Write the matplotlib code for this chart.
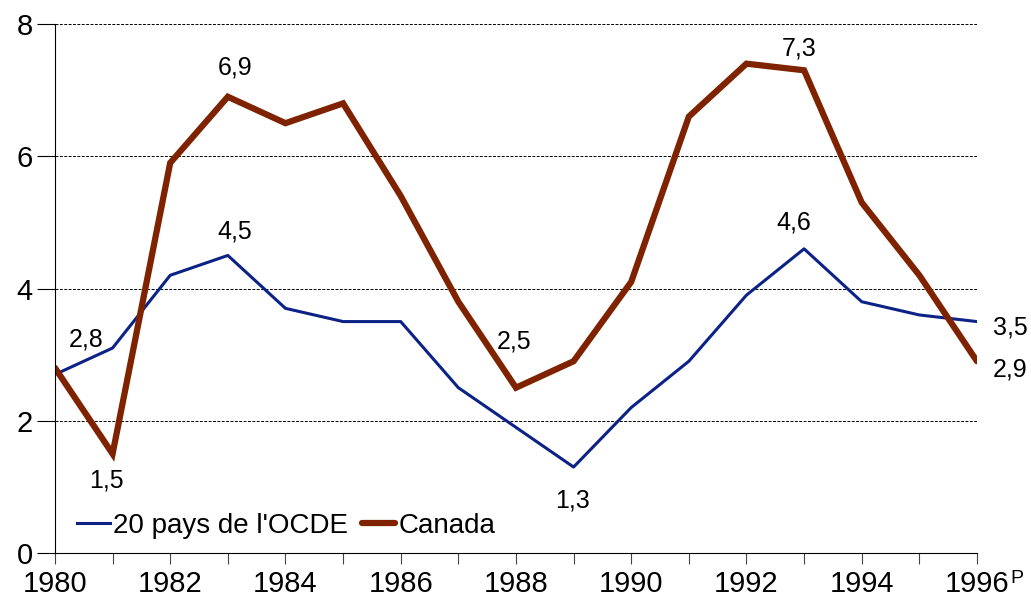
import matplotlib.pyplot as plt
from matplotlib.ticker import MultipleLocator

plt.rcParams["font.family"] = ["Liberation Sans", "DejaVu Sans"]

years = list(range(1980, 1997))
ocde = [2.7, 3.1, 4.2, 4.5, 3.7, 3.5, 3.5, 2.5, 1.9, 1.3, 2.2, 2.9, 3.9, 4.6, 3.8, 3.6, 3.5]
canada = [2.8, 1.5, 5.9, 6.9, 6.5, 6.8, 5.4, 3.8, 2.5, 2.9, 4.1, 6.6, 7.4, 7.3, 5.3, 4.2, 2.9]
year_labels = ["1980", "1982", "1984", "1986", "1988", "1990", "1992", "1994", "1996"]

# labelled points: (series, year index, text, offset in pixels)
labels = [
    (canada, 0, "2,8", (31, 28)),
    (canada, 1, "1,5", (-6, -27)),
    (canada, 3, "6,9", (7, 29)),
    (ocde, 3, "4,5", (7, 24)),
    (canada, 8, "2,5", (-2, 46)),
    (ocde, 9, "1,3", (-1, -33)),
    (canada, 13, "7,3", (-5, 22)),
    (ocde, 13, "4,6", (-10, 26)),
    (ocde, 16, "3,5", (33, -6)),
    (canada, 16, "2,9", (33, -8)),
]

fig = plt.figure(figsize=(10.31, 6), dpi=100)
ax = fig.add_axes([0.0533, 0.0783, 0.8943, 0.8817])

ax.plot(years, ocde, color="#0c2287", lw=2.2, label="20 pays de l'OCDE")
ax.plot(years, canada, color="#7f2200", lw=4.5, label="Canada",
        solid_capstyle="round", solid_joinstyle="miter")

for series, i, txt, off in labels:
    ax.annotate(txt, (years[i], series[i]), xytext=off, textcoords="offset pixels",
                ha="center", va="center", fontsize=18, annotation_clip=False)

ax.set_xlim(1980, 1996)
ax.set_ylim(0, 8)
ax.xaxis.set_major_locator(MultipleLocator(1))
ax.set_xticks(range(1980, 1997, 2))
ax.set_xticks(range(1980, 1997), minor=True)
ax.set_xticklabels(year_labels)
ax.set_yticks([0, 2, 4, 6, 8])
ax.tick_params(axis="x", which="both", length=8, width=0.8, color="#444444",
               labelsize=21, pad=4)
ax.tick_params(axis="y", length=13, width=0.8, labelsize=21, pad=3)
ax.annotate("P", (1996, 0), xytext=(33, -25), textcoords="offset pixels",
            fontsize=14, ha="left", va="center", annotation_clip=False)

for y in [2, 4, 6, 8]:
    ax.axhline(y, color="black", lw=0.7, ls=(0, (3, 1.5)), zorder=0)

for side in ["top", "right"]:
    ax.spines[side].set_visible(False)
ax.spines["left"].set_linewidth(0.8)
ax.spines["bottom"].set_linewidth(0.8)

ax.legend(loc="lower left", bbox_to_anchor=(0.003, -0.01), frameon=False, fontsize=20,
          handlelength=1.2, handletextpad=0.1, columnspacing=0.5, ncol=2,
          borderaxespad=0.3)

fig.savefig("out.png", dpi=100)
